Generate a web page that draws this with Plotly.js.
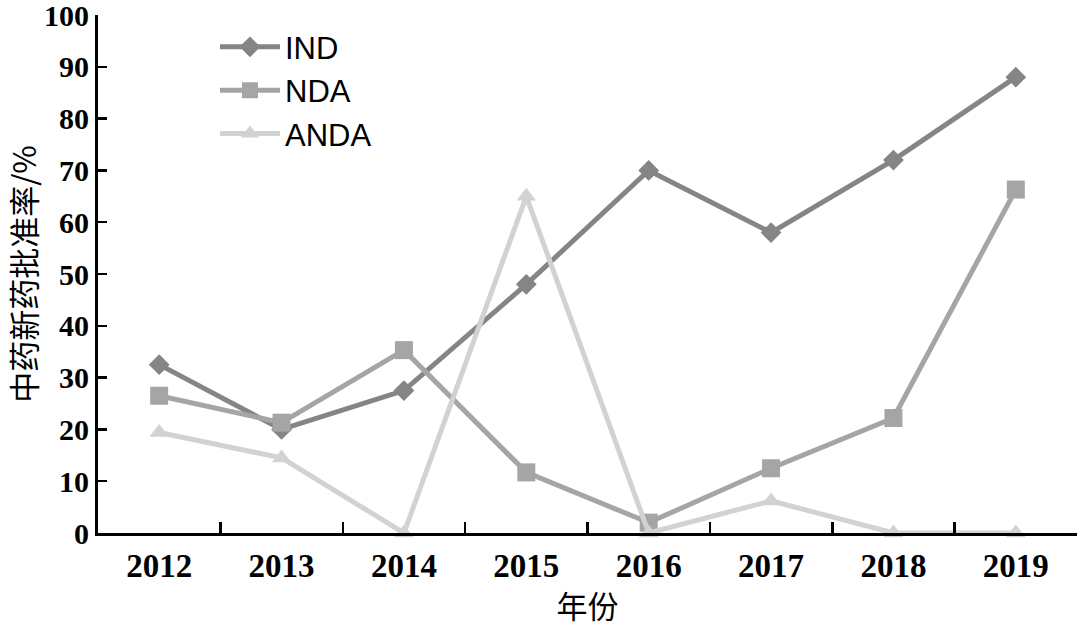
<!DOCTYPE html>
<html>
<head>
<meta charset="utf-8">
<script src="https://cdn.plot.ly/plotly-3.0.1.min.js"></script>
<style>
  html, body { margin: 0; padding: 0; background: #fff; }
  #chart { width: 1080px; height: 627px; }
</style>
</head>
<body>
<div id="chart"></div>
<script>
const years = ['2012', '2013', '2014', '2015', '2016', '2017', '2018', '2019'];
const indRate  = [32.5, 20, 27.5, 48, 70, 58, 72, 88];
const ndaRate  = [26.5, 21.3, 35.3, 11.7, 2, 12.5, 22.2, 66.3];
const andaRate = [19.4, 14.5, 0, 65, 0, 6.2, 0, 0];

const SERIES = [
  { name: 'IND',  y: indRate,  color: '#858585', symbol: 'diamond',     size: 16 },
  { name: 'NDA',  y: ndaRate,  color: '#a5a5a5', symbol: 'square',      size: 18 },
  { name: 'ANDA', y: andaRate, color: '#d2d2d2', symbol: 'triangle-up', size: 17 },
];

const traces = SERIES.map(s => ({
  x: years,
  y: s.y,
  name: s.name,
  type: 'scatter',
  mode: 'lines+markers',
  cliponaxis: false,
  line:   { color: s.color, width: 5 },
  marker: { color: s.color, symbol: s.symbol, size: s.size, line: { width: 0 } },
}));

const serif = '"Liberation Serif", "Times New Roman", serif';
const cjkFont = { family: '"Noto Sans CJK SC", sans-serif', size: 31, color: '#000' };

const layout = {
  width: 1080,
  height: 627,
  paper_bgcolor: '#fff',
  plot_bgcolor:  '#fff',
  margin: { t: 15, r: 3, b: 94, l: 98 },
  showlegend: true,
  legend: {
    x: 0.1195, y: 0.99, xanchor: 'left', yanchor: 'top',
    font: { family: '"Liberation Sans", Arial, sans-serif', size: 31, color: '#000' },
    bgcolor: 'rgba(0,0,0,0)',
    tracegroupgap: 0,
    itemwidth: 60,
  },
  xaxis: {
    type: 'category',
    range: [-0.5, 7.5],
    tickson: 'boundaries',
    ticks: 'inside',
    ticklen: 11,
    tickwidth: 2.5,
    tickcolor: '#000',
    ticklabelstandoff: 1,
    showline: true,
    linecolor: '#000',
    linewidth: 3,
    showgrid: false,
    zeroline: false,
    tickfont: { family: serif, size: 33, color: '#000', weight: 'bold' },
    title: { text: '年份', font: cjkFont, standoff: 6 },
  },
  yaxis: {
    range: [0, 100],
    dtick: 10,
    ticks: 'inside',
    ticklen: 9,
    tickwidth: 2.5,
    tickcolor: '#000',
    ticklabeloverflow: 'allow',
    showline: true,
    linecolor: '#000',
    linewidth: 3,
    showgrid: false,
    zeroline: false,
    tickfont: { family: serif, size: 30, color: '#000', weight: 'bold' },
    title: { text: '中药新药批准率/%', font: cjkFont, standoff: 12 },
  },
};

Plotly.newPlot('chart', traces, layout, { displayModeBar: false, staticPlot: true });
</script>
</body>
</html>
